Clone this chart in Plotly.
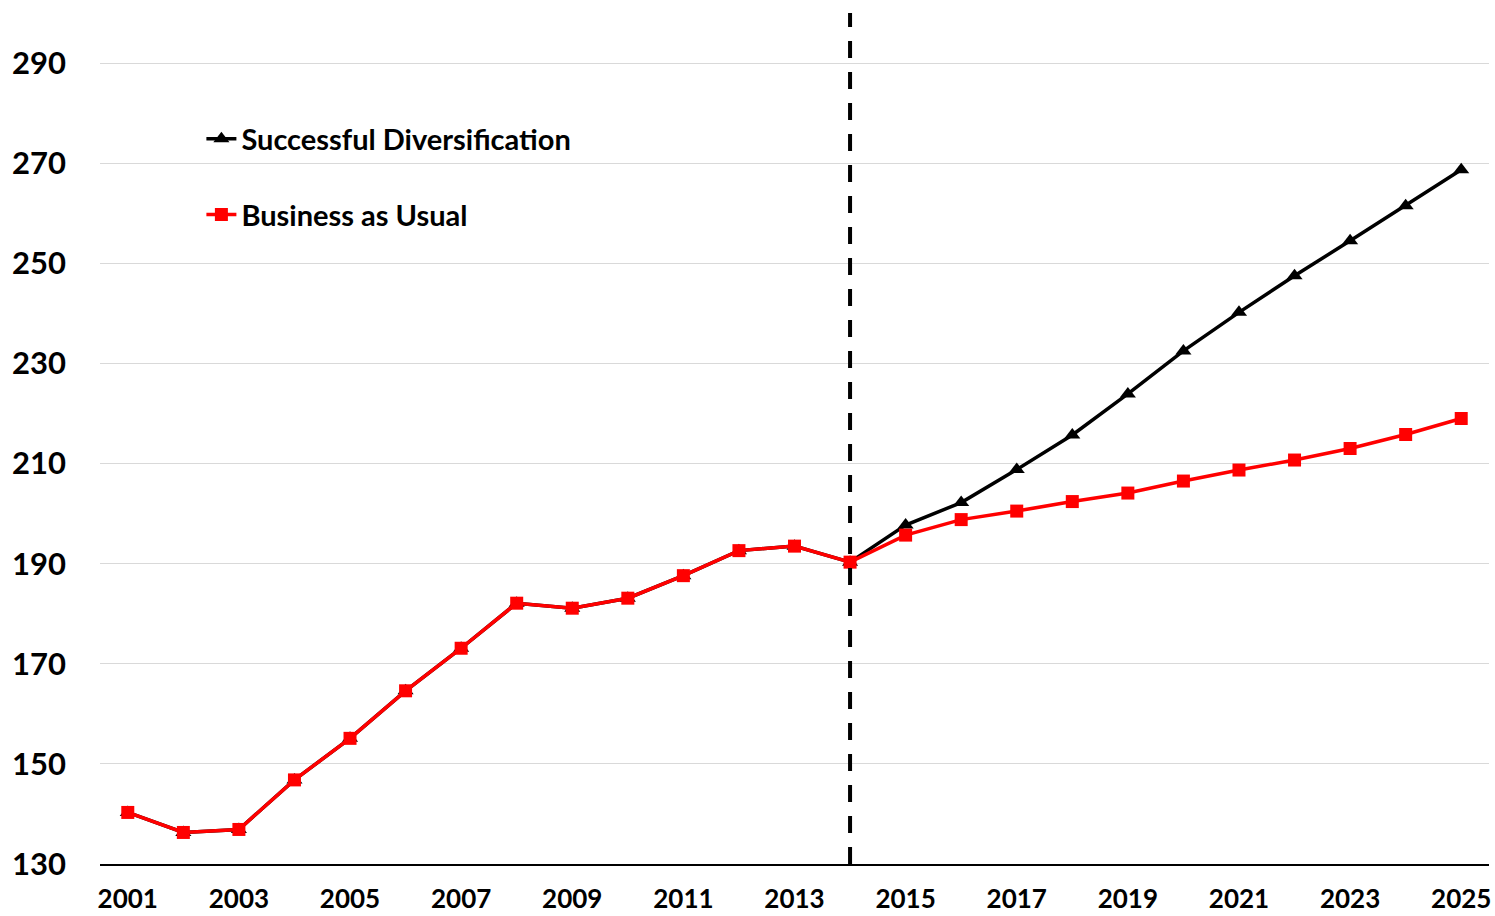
import plotly.graph_objects as go

years = list(range(2001, 2026))
diversification = [140.3, 136.3, 136.9, 146.8, 155.1, 164.6, 173.1, 182.1, 181.1, 183.1,
                   187.6, 192.6, 193.5, 190.3, 197.7, 202.2, 208.8, 215.7, 223.9, 232.5,
                   240.2, 247.5, 254.5, 261.5, 268.7]
business_as_usual = [140.3, 136.3, 136.9, 146.8, 155.1, 164.6, 173.1, 182.1, 181.1, 183.1,
                     187.6, 192.6, 193.5, 190.3, 195.7, 198.8, 200.5, 202.4, 204.1, 206.5,
                     208.7, 210.7, 213.0, 215.8, 219.0]
y_ticks = [130, 150, 170, 190, 210, 230, 250, 270, 290]
x_ticks = list(range(2001, 2026, 2))
split_year = 2014

FONT = "Lato"

fig = go.Figure()
fig.add_trace(go.Scatter(
    x=years, y=diversification, name="Successful Diversification",
    mode="lines+markers", legendgroup="a",
    line=dict(color="black", width=3.5),
    marker=dict(symbol="triangle-up", size=14, color="black"),
))
fig.add_trace(go.Scatter(
    x=years, y=business_as_usual, name="Business as Usual",
    mode="lines+markers", legendgroup="b",
    line=dict(color="#ff0000", width=3.5),
    marker=dict(symbol="square", size=13, color="#ff0000"),
))

fig.add_shape(type="line", xref="x", yref="paper", x0=split_year, x1=split_year,
              y0=0, y1=1, line=dict(color="black", width=4, dash="17px,14px"))

fig.update_layout(
    width=1495, height=916,
    margin=dict(l=100, r=6, t=13, b=52),
    paper_bgcolor="white", plot_bgcolor="white",
    font=dict(family=FONT, color="black"),
    showlegend=True,
    legend=dict(
        x=0.073, y=0.882, xanchor="left", yanchor="top",
        font=dict(family=FONT, size=29, weight=700, color="black"),
        bgcolor="rgba(0,0,0,0)", tracegroupgap=35, traceorder="grouped",
        itemwidth=30,
    ),
    xaxis=dict(
        range=[2000.5, 2025.5], tickvals=x_ticks, ticktext=[str(v) for v in x_ticks],
        showgrid=False, zeroline=False, automargin=False,
        showline=True, linecolor="black", linewidth=1.5,
        ticks="", ticklabelstandoff=11,
        tickfont=dict(family=FONT, size=26, weight=700, color="black"),
    ),
    yaxis=dict(
        range=[130, 300], tickvals=y_ticks, ticktext=[str(v) for v in y_ticks],
        showgrid=True, gridcolor="#d9d9d9", gridwidth=1.3, automargin=False,
        zeroline=False, showline=False, ticks="", ticklabelstandoff=33,
        tickfont=dict(family=FONT, size=31, weight=700, color="black"),
    ),
)

fig.write_html("out.html")
